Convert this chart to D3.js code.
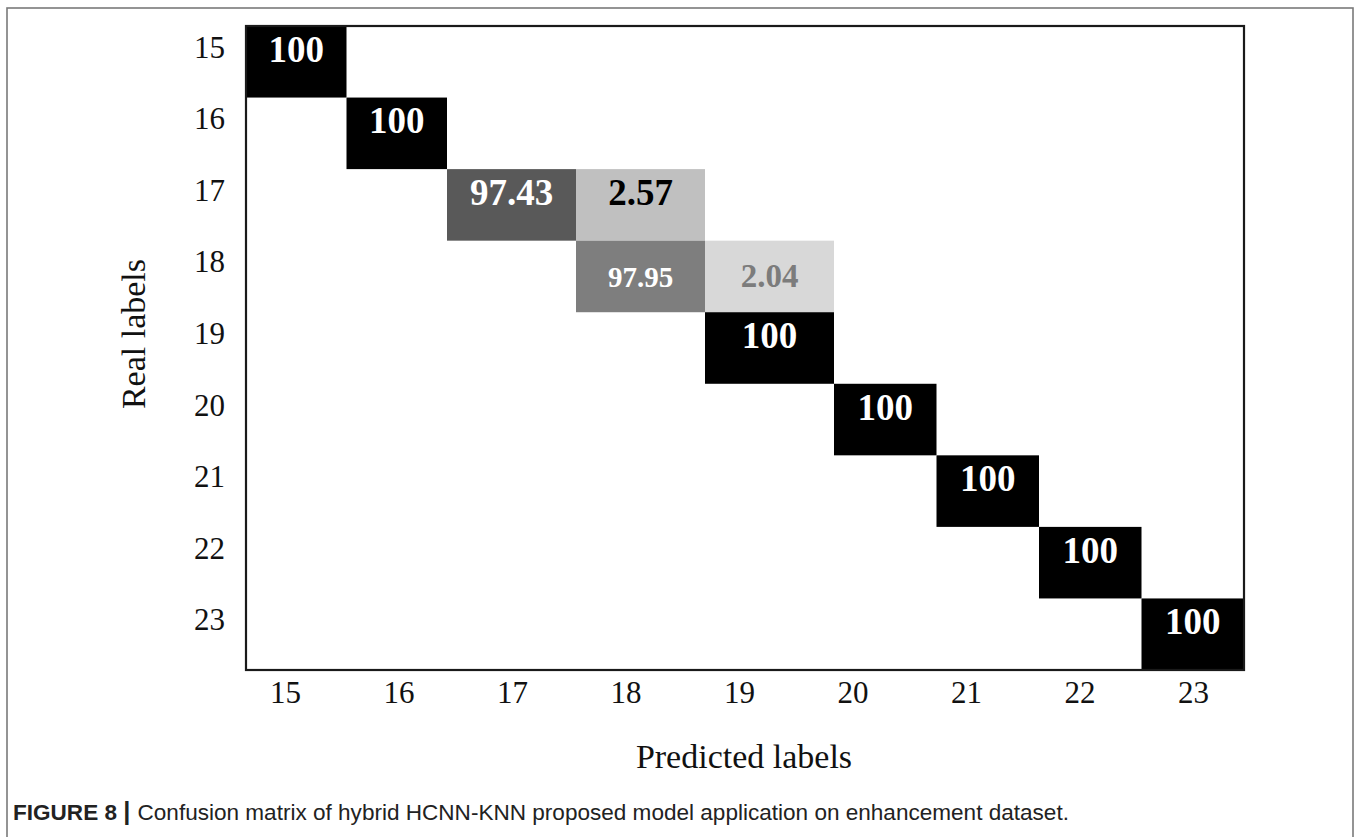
<!DOCTYPE html>
<html>
<head>
<meta charset="utf-8">
<script src="https://cdn.jsdelivr.net/npm/d3@7"></script>
<style>
  html, body { margin: 0; padding: 0; background: #fff; }
  svg { display: block; }
</style>
</head>
<body>
<svg id="chart" width="1357" height="837"></svg>
<script>
// Class labels shared by both axes
const labels = ["15", "16", "17", "18", "19", "20", "21", "22", "23"];

// Confusion matrix (%): rows = real labels, columns = predicted labels
const row15 = [100, 0, 0, 0, 0, 0, 0, 0, 0];
const row16 = [0, 100, 0, 0, 0, 0, 0, 0, 0];
const row17 = [0, 0, 97.43, 2.57, 0, 0, 0, 0, 0];
const row18 = [0, 0, 0, 97.95, 2.04, 0, 0, 0, 0];
const row19 = [0, 0, 0, 0, 100, 0, 0, 0, 0];
const row20 = [0, 0, 0, 0, 0, 100, 0, 0, 0];
const row21 = [0, 0, 0, 0, 0, 0, 100, 0, 0];
const row22 = [0, 0, 0, 0, 0, 0, 0, 100, 0];
const row23 = [0, 0, 0, 0, 0, 0, 0, 0, 100];
const matrix = [row15, row16, row17, row18, row19, row20, row21, row22, row23];

const xTitle = "Predicted labels";
const yTitle = "Real labels";
const captionHead = "FIGURE 8 | ";
const captionBody = "Confusion matrix of hybrid HCNN-KNN proposed model application on enhancement dataset.";

// ---- layout ----
const box = { left: 246, right: 1244, top: 26, bottom: 670 };
const serif = "'Liberation Serif', 'DejaVu Serif', 'Times New Roman', serif";
const sans = "'Liberation Sans', Arial, Helvetica, sans-serif";

const svg = d3.select("#chart");

// Figure frame (open at the bottom)
svg.append("rect")
  .attr("x", 7).attr("y", 8)
  .attr("width", 1346).attr("height", 860)
  .attr("fill", "none")
  .attr("stroke", "#7a7a7a")
  .attr("stroke-width", 1.6);

// Column edges: the middle three columns are drawn wider
const colEdge = d3.scaleLinear()
  .domain([0, 2, 5, 9])
  .range([box.left, 447, 834, box.right]);

const rowBand = d3.scaleBand()
  .domain(labels)
  .range([box.top, box.bottom]);

// Tick labels under the matrix sit on an even grid
const xTick = d3.scalePoint()
  .domain(labels)
  .range([285, 1193]);

// Cell appearance per value
const cellFill = d3.scaleOrdinal()
  .domain([100, 97.43, 2.57, 97.95, 2.04])
  .range(["#000000", "#595959", "#c0c0c0", "#7e7e7e", "#d8d8d8"]);
const textFill = d3.scaleOrdinal()
  .domain([100, 97.43, 2.57, 97.95, 2.04])
  .range(["#ffffff", "#ffffff", "#000000", "#ffffff", "#7c7c7c"]);
const textSize = d3.scaleOrdinal()
  .domain([100, 97.43, 2.57, 97.95, 2.04])
  .range([37, 37, 37, 29, 33]);
const textShift = d3.scaleOrdinal()
  .domain([100, 97.43, 2.57, 97.95, 2.04])
  .range([0, 0, 0, 11, 11]);

const cells = [];
matrix.forEach((row, i) => row.forEach((v, j) => {
  if (v > 0) cells.push({ real: labels[i], col: j, value: v });
}));

const g = svg.append("g");

g.selectAll("rect.cell")
  .data(cells)
  .join("rect")
  .attr("class", "cell")
  .attr("x", d => colEdge(d.col))
  .attr("y", d => rowBand(d.real))
  .attr("width", d => colEdge(d.col + 1) - colEdge(d.col))
  .attr("height", rowBand.bandwidth())
  .attr("fill", d => cellFill(d.value));

g.selectAll("text.val")
  .data(cells)
  .join("text")
  .attr("class", "val")
  .attr("x", d => (colEdge(d.col) + colEdge(d.col + 1)) / 2)
  .attr("y", d => rowBand(d.real) + rowBand.bandwidth() / 2 + textShift(d.value))
  .attr("text-anchor", "middle")
  .attr("font-family", serif)
  .attr("font-weight", "bold")
  .attr("font-size", d => textSize(d.value))
  .attr("fill", d => textFill(d.value))
  .text(d => String(d.value));

// Plot border
svg.append("rect")
  .attr("x", box.left).attr("y", box.top)
  .attr("width", box.right - box.left)
  .attr("height", box.bottom - box.top)
  .attr("fill", "none")
  .attr("stroke", "#1a1a1a")
  .attr("stroke-width", 2.2);

// Y axis (real labels)
const yAxis = svg.append("g")
  .attr("transform", `translate(${box.left},0)`)
  .call(d3.axisLeft(rowBand).tickSize(0).tickPadding(21));
yAxis.select(".domain").remove();
yAxis.selectAll("text")
  .attr("dy", "-4px")
  .attr("font-family", serif)
  .attr("font-size", 31)
  .attr("fill", "#111");

// X axis (predicted labels)
const xAxis = svg.append("g")
  .attr("transform", `translate(0,${box.bottom})`)
  .call(d3.axisBottom(xTick).tickSize(0));
xAxis.select(".domain").remove();
xAxis.selectAll("text")
  .attr("y", 33)
  .attr("dy", 0)
  .attr("font-family", serif)
  .attr("font-size", 31)
  .attr("fill", "#111");

// Axis titles
svg.append("text")
  .attr("x", 744).attr("y", 768)
  .attr("text-anchor", "middle")
  .attr("font-family", serif)
  .attr("font-size", 34)
  .attr("fill", "#111")
  .text(xTitle);

svg.append("text")
  .attr("transform", "translate(145,334) rotate(-90)")
  .attr("text-anchor", "middle")
  .attr("font-family", serif)
  .attr("font-size", 34)
  .attr("fill", "#111")
  .text(yTitle);

// Caption, condensed to span its line
const cap = svg.append("text")
  .attr("font-family", sans)
  .attr("font-size", 23)
  .attr("fill", "#222");
cap.append("tspan").attr("font-weight", "bold").text(captionHead.replace(" | ", " "));
cap.append("tspan").attr("font-weight", "bold").attr("font-size", 26).text("| ");
cap.append("tspan").text(captionBody);
const capW = cap.node().getComputedTextLength();
cap.attr("transform", `translate(13,820) scale(${1057 / capW},1)`);
</script>
</body>
</html>
